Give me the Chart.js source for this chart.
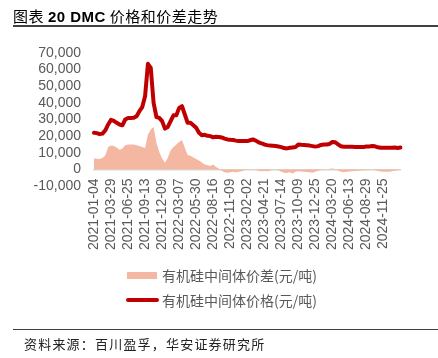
<!DOCTYPE html>
<html>
<head>
<meta charset="utf-8">
<script src="https://cdn.jsdelivr.net/npm/chart.js@4.4.1/dist/chart.umd.min.js"></script>
<style>
  body { margin: 0; background: #fff; }
  #wrap { position: relative; width: 438px; height: 358px; overflow: hidden; }
  #myChart { position: absolute; left: 0; top: 0; }
  .titulo { position: absolute; left: 13px; top: 5px; font-size: 15px; color: #000; letter-spacing: 0.5px;
    font-family: "Noto Sans CJK SC", sans-serif; white-space: nowrap; }
  .titulo b { font-family: "Liberation Sans", Arial, sans-serif; }
  .linea { position: absolute; left: 13px; width: 425px; height: 1.5px; background: #404040; }
  .fuente { position: absolute; left: 24px; top: 334px; font-size: 13px; color: #222; letter-spacing: 1.2px;
    font-family: "Noto Sans CJK SC", sans-serif; white-space: nowrap; }
  .leyenda { position: absolute; left: 162px; font-size: 14px; color: #595959; line-height: 16px;
    font-family: "Noto Sans CJK SC", sans-serif; white-space: nowrap; }
  .caja { position: absolute; left: 127px; width: 30px; height: 7px; background: #f4b8a2; }
  .raya { position: absolute; left: 126px; width: 33px; height: 4px; border-radius: 2px; background: #c00000; }
</style>
</head>
<body>
<div id="wrap">
  <canvas id="myChart" width="438" height="358"></canvas>
  <div class="titulo">图表 <b>20 DMC</b> 价格和价差走势</div>
  <div class="linea" style="top:25px"></div>
  <div class="caja" style="top:272px"></div>
  <div class="leyenda" style="top:267px">有机硅中间体价差(元/吨)</div>
  <div class="raya" style="top:298px"></div>
  <div class="leyenda" style="top:292px">有机硅中间体价格(元/吨)</div>
  <div class="linea" style="top:328.5px"></div>
  <div class="fuente">资料来源：百川盈孚，华安证券研究所</div>
</div>
<script>
// fechas que aparecen en el eje x (una cada 6 puntos)
const fechasEje = ["2021-01-04", "2021-03-29", "2021-06-25", "2021-09-13", "2021-12-09", "2022-03-07",
  "2022-05-30", "2022-08-16", "2022-11-09", "2023-02-02", "2023-04-21", "2023-07-14",
  "2023-10-09", "2023-12-25", "2024-03-20", "2024-06-13", "2024-08-29", "2024-11-25"];
const puntosPorFecha = 6;

// precio DMC (元/吨)
const precio = [22000, 21800, 21200, 21500, 23500, 27000, 29800, 29200, 28000, 27000,
  26500, 30000, 30900, 30900, 31000, 32000, 35000, 37500, 44000, 63500,
  61000, 40000, 31500, 31000, 29000, 24500, 25500, 29000, 32500, 32500,
  37000, 38000, 33000, 28000, 28000, 26500, 25000, 22000, 20500, 20800,
  20200, 20000, 19300, 19600, 19500, 19200, 18500, 18000, 17800, 17700,
  17300, 17000, 17000, 17000, 17000, 17500, 18000, 17300, 16300, 15700,
  15000, 14600, 14300, 14200, 14000, 13800, 13400, 12800, 12600, 13000,
  13200, 13400, 15000, 14800, 14700, 14500, 14300, 14000, 13700, 14000,
  14700, 15000, 15000, 15300, 16500, 16300, 15000, 13900, 13600, 13600,
  13600, 13600, 13500, 13500, 13400, 13500, 13700, 13800, 14000, 13900,
  13300, 13000, 13000, 13000, 13000, 13000, 13100, 12900, 13200];

// precio diferencial (元/吨)
const diferencia = [6600, 6400, 6200, 6800, 8500, 13500, 14400, 14000, 13200, 11800,
  12500, 14500, 15000, 15000, 15000, 14500, 14000, 13500, 12800, 21000,
  24000, 25500, 16000, 10500, 6500, 4000, 7000, 11500, 13500, 15000,
  16500, 17600, 13000, 8600, 8200, 7200, 6200, 5300, 4200, 3000,
  2500, 2000, 3000, 1500, 500, -800, -1800, -2000, -1800, -1500,
  -1800, -1500, -1200, -600, -300, -300, -200, -400, -900, -1100,
  -1000, -1200, -800, -300, -200, -500, -1500, -2000, -2200, -1800,
  -2500, -1500, -1200, -1300, -1400, -1600, -1800, -2000, -1500, -800,
  -400, -300, 0, 400, 600, 300, -800, -1500, -1700, -1500,
  -1300, -1200, -1000, -900, -700, -500, -500, -400, -300, -600,
  -900, -1300, -1500, -1500, -1400, -1200, -800, -500, -400];

const etiquetas = precio.map((v, i) => (i % puntosPorFecha === 0 ? fechasEje[i / puntosPorFecha] || "" : ""));

const gris = "#595959";
const fuenteEje = { family: "'Liberation Sans', Arial, sans-serif", size: 14 };

const config = {
  type: "line",
  data: {
    labels: etiquetas,
    datasets: [
      {
        label: "有机硅中间体价格(元/吨)",
        data: precio,
        borderColor: "#c00000",
        borderWidth: 4,
        borderJoinStyle: "round",
        borderCapStyle: "round",
        pointRadius: 0,
        fill: false,
        order: 0,
      },
      {
        label: "有机硅中间体价差(元/吨)",
        data: diferencia,
        borderWidth: 0,
        borderColor: "rgba(0,0,0,0)",
        backgroundColor: "#f4b8a2",
        pointRadius: 0,
        fill: "origin",
        order: 1,
      },
    ],
  },
  options: {
    responsive: false,
    animation: false,
    layout: { padding: { top: 53, bottom: 172, right: 37.5, left: 0 } },
    plugins: { legend: { display: false }, tooltip: { enabled: false } },
    scales: {
      x: {
        position: { y: 0 },
        offset: false,
        grid: { display: false, drawTicks: false },
        border: { display: true, color: "#d9d9d9", width: 1.5 },
        ticks: {
          autoSkip: false,
          minRotation: 90,
          maxRotation: 90,
          padding: 9,
          color: gris,
          font: fuenteEje,
        },
      },
      y: {
        min: -10000,
        max: 70000,
        grid: { display: false, drawTicks: false },
        border: { display: false },
        afterFit: (escala) => { escala.width = 94; },
        ticks: {
          stepSize: 10000,
          autoSkip: false,
          padding: 13,
          color: gris,
          font: fuenteEje,
          callback: (v) => v.toLocaleString("en-US"),
        },
      },
    },
  },
};

new Chart(document.getElementById("myChart"), config);
</script>
</body>
</html>
